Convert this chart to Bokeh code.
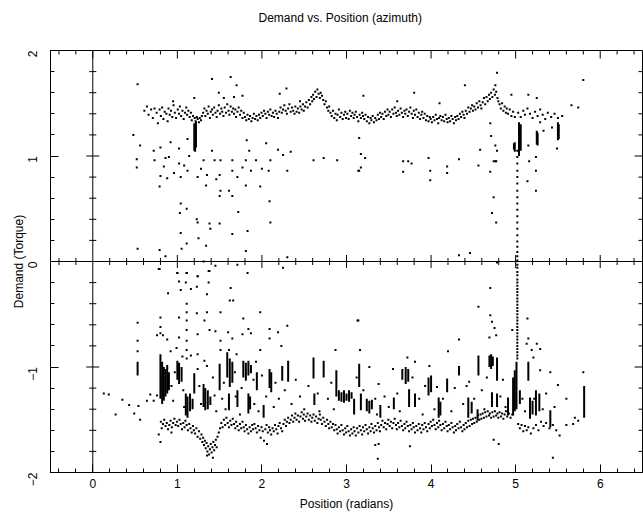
import math
import numpy as np
from bokeh.plotting import figure
from bokeh.models import (Range1d, LinearAxis, SingleIntervalTicker, Span,
                          ColumnDataSource, Title)
from bokeh.embed import file_html
from bokeh.resources import INLINE

# ---------------- data ----------------
upper_band = [
    (0.61,1.43),(0.64,1.47),(0.66,1.39),(0.69,1.44),(0.71,1.36),(0.73,1.45),(0.755,1.41),(0.77,1.31),(0.79,1.44),
    (0.805,1.38),(0.82,1.46),(0.835,1.35),(0.85,1.42),(0.87,1.40),(0.885,1.33),(0.895,1.45),
    (0.91,1.39),(0.925,1.43),(0.94,1.37),(0.955,1.48),(0.97,1.41),(0.985,1.36),
    (1.005,1.44),(1.02,1.40),(1.03,1.47),(1.045,1.38),(1.06,1.43),(1.075,1.35),(1.09,1.41),
    (1.105,1.46),(1.115,1.39),(1.13,1.43),(1.145,1.37),(1.16,1.41),(1.17,1.34),(1.185,1.38),
    (1.205,1.36),(1.215,1.33),(1.23,1.37),(1.24,1.35),(1.255,1.32),(1.265,1.36),(1.28,1.34),(1.29,1.38),
    (1.305,1.41),(1.32,1.45),(1.33,1.38),(1.345,1.43),(1.36,1.40),(1.37,1.47),(1.385,1.36),(1.395,1.42),
    (1.41,1.44),(1.42,1.39),(1.435,1.46),(1.45,1.41),(1.465,1.37),(1.475,1.43),(1.49,1.48),
    (1.505,1.40),(1.52,1.45),(1.53,1.42),(1.545,1.38),(1.56,1.46),(1.575,1.41),(1.59,1.49),
    (1.605,1.43),(1.615,1.39),(1.63,1.47),(1.645,1.42),(1.66,1.45),(1.67,1.40),(1.685,1.44),(1.695,1.37),
    (1.71,1.42),(1.725,1.46),(1.74,1.39),(1.755,1.43),(1.77,1.36),(1.785,1.41),
    (1.80,1.37),(1.815,1.34),(1.83,1.39),(1.845,1.35),(1.86,1.38),(1.875,1.33),(1.89,1.36),
    (1.905,1.40),(1.92,1.35),(1.935,1.38),(1.95,1.34),(1.965,1.39),(1.98,1.36),(1.995,1.41),
    (2.01,1.38),(2.025,1.43),(2.04,1.40),(2.055,1.36),(2.07,1.42),(2.085,1.39),
    (2.10,1.44),(2.115,1.38),(2.13,1.41),(2.145,1.37),(2.16,1.43),(2.175,1.40),(2.19,1.36),
    (2.205,1.42),(2.22,1.46),(2.235,1.41),(2.25,1.44),(2.265,1.48),(2.28,1.43),(2.295,1.40),
    (2.31,1.45),(2.325,1.49),(2.34,1.42),(2.355,1.46),(2.37,1.43),(2.385,1.40),(2.395,1.47),
    (2.41,1.42),(2.425,1.45),(2.44,1.41),(2.455,1.47),(2.47,1.44),(2.485,1.49),(2.495,1.43),
    (2.51,1.47),(2.525,1.51),(2.54,1.46),(2.555,1.53),(2.57,1.49),(2.585,1.56),(2.595,1.52),
    (2.605,1.58),(2.615,1.54),(2.63,1.61),(2.645,1.56),(2.655,1.63),(2.67,1.59),(2.685,1.55),(2.695,1.60),
    (2.71,1.57),(2.725,1.53),(2.74,1.49),(2.755,1.52),(2.77,1.46),(2.785,1.43),(2.795,1.47),
    (2.81,1.41),(2.825,1.38),(2.84,1.43),(2.855,1.36),(2.87,1.40),(2.885,1.34),(2.895,1.39),
    (2.91,1.44),(2.925,1.37),(2.94,1.41),(2.955,1.35),(2.97,1.39),(2.985,1.42),(2.995,1.36),
    (3.01,1.40),(3.025,1.35),(3.04,1.43),(3.055,1.38),(3.07,1.41),(3.085,1.36),(3.095,1.39),
    (3.11,1.42),(3.125,1.37),(3.14,1.33),(3.155,1.39),(3.17,1.36),(3.185,1.41),(3.195,1.38),
    (3.21,1.35),(3.225,1.39),(3.24,1.33),(3.255,1.37),(3.27,1.31),(3.285,1.36),(3.295,1.34),
    (3.31,1.38),(3.325,1.32),(3.34,1.36),(3.355,1.34),(3.37,1.39),(3.385,1.35),(3.395,1.41),
    (3.41,1.37),(3.425,1.40),(3.44,1.35),(3.455,1.42),(3.47,1.38),(3.485,1.44),(3.495,1.39),
    (3.51,1.42),(3.525,1.37),(3.54,1.44),(3.555,1.40),(3.57,1.46),(3.585,1.41),(3.595,1.38),
    (3.61,1.43),(3.625,1.39),(3.64,1.45),(3.655,1.41),(3.67,1.37),(3.685,1.43),(3.695,1.40),
    (3.71,1.44),(3.725,1.38),(3.74,1.42),(3.755,1.46),(3.77,1.40),(3.785,1.36),(3.795,1.43),
    (3.81,1.39),(3.825,1.44),(3.84,1.37),(3.855,1.41),(3.87,1.35),(3.885,1.39),(3.895,1.42),
    (3.91,1.36),(3.925,1.40),(3.94,1.34),(3.955,1.38),(3.97,1.33),(3.985,1.37),(3.995,1.35),
    (4.01,1.32),(4.025,1.37),(4.04,1.34),(4.055,1.39),(4.07,1.35),(4.085,1.31),(4.095,1.36),
    (4.11,1.38),(4.125,1.34),(4.14,1.37),(4.155,1.33),(4.17,1.39),(4.185,1.35),(4.195,1.32),
    (4.21,1.36),(4.225,1.33),(4.24,1.38),(4.255,1.35),(4.27,1.31),(4.285,1.37),(4.295,1.34),
    (4.31,1.38),(4.325,1.35),(4.34,1.40),(4.355,1.37),(4.37,1.42),(4.385,1.39),(4.395,1.36),
    (4.41,1.43),(4.425,1.40),(4.44,1.46),(4.455,1.42),(4.47,1.45),(4.485,1.48),(4.495,1.43),
    (4.51,1.47),(4.525,1.44),(4.54,1.50),(4.555,1.46),(4.57,1.52),(4.585,1.48),(4.595,1.45),
    (4.61,1.51),(4.625,1.55),(4.64,1.49),(4.655,1.56),(4.67,1.52),(4.685,1.58),(4.695,1.54),
    (4.71,1.60),(4.725,1.56),(4.74,1.63),(4.755,1.58),(4.77,1.61),(4.785,1.55),(4.795,1.52),
    (4.81,1.49),(4.825,1.45),(4.84,1.50),(4.855,1.43),(4.87,1.47),(4.885,1.41),(4.895,1.45),
    (4.91,1.40),(4.93,1.44),(4.95,1.38),(4.97,1.42),(4.99,1.37),
    (5.03,1.41),(5.06,1.37),(5.09,1.43),(5.11,1.39),(5.14,1.45),(5.17,1.40),(5.20,1.36),(5.23,1.42),
    (5.26,1.38),(5.29,1.44),(5.32,1.39),(5.35,1.35),(5.38,1.41),(5.42,1.37),(5.46,1.40),(5.50,1.36),
    (5.55,1.38),
]

upper_scatter = [
    (0.53,1.68),(1.41,1.73),(1.63,1.75),(1.70,1.67),(1.77,1.57),(1.49,1.60),(1.67,1.56),(2.21,1.59),
    (2.29,1.64),(3.20,1.57),(3.80,1.60),(4.40,1.67),(4.76,1.67),(4.78,1.79),(4.95,1.58),(5.15,1.58),
    (5.25,1.55),(5.66,1.48),(5.74,1.46),(5.80,1.72),(1.55,1.55),(2.45,1.52),(3.60,1.52),(4.10,1.50),
    (1.20,1.55),(0.95,1.52),
    (0.48,1.20),(0.56,1.10),(0.52,0.97),(0.52,0.89),(0.72,1.05),(0.73,0.96),(0.80,1.08),(0.80,0.81),
    (0.79,0.71),(0.88,0.79),(0.90,0.99),(0.84,0.90),(0.92,1.13),(1.02,1.07),(1.02,0.93),(1.04,0.80),
    (1.12,1.16),(1.14,1.00),(1.12,0.86),(1.24,0.80),(1.31,0.96),(1.35,0.82),(1.34,0.72),(1.41,1.05),
    (1.44,0.96),(1.51,0.96),(1.50,0.82),(1.65,0.96),(1.65,0.86),(1.71,0.80),(1.77,0.89),(1.81,0.96),
    (1.82,1.15),(1.85,1.05),(1.87,0.86),(1.81,0.72),(1.93,0.96),(1.98,0.71),(2.00,0.88),(2.08,0.86),
    (2.10,0.96),(2.05,1.12),(2.19,1.06),(2.25,1.01),(2.34,1.04),(2.30,0.86),(2.61,0.96),(2.73,0.98),
    (2.89,0.96),(3.15,1.17),(3.14,0.86),(0.96,0.84),(1.08,0.91),(1.28,0.88),(1.46,0.78),(0.86,0.98),
    (3.17,1.02),(3.22,0.98),(3.15,0.86),(3.17,0.89),(3.67,0.95),(3.73,0.95),(3.77,0.93),(3.67,0.85),
    (3.97,0.98),(3.99,0.86),(3.99,0.77),(4.19,0.90),(4.19,0.84),(4.33,0.97),(4.56,0.91),(4.58,1.06),
    (4.70,0.85),(4.71,1.19),(4.70,1.31),(4.76,1.10),(4.78,1.05),(4.76,0.95),(4.74,0.61),(4.72,0.46),
    (4.77,0.37),(4.33,0.06),(4.46,0.08),(4.78,-0.01),(5.15,1.10),(5.16,0.95),(5.14,0.76),(5.24,0.86),
    (5.24,0.67),(5.24,0.99),(5.33,1.24),(5.43,1.27),(5.49,1.07),(5.29,1.32),(4.74,0.95),(4.77,0.95),
    (1.51,0.67),(1.61,0.67),(1.65,0.62),(1.50,0.62),(1.04,0.55),(1.11,0.50),(1.03,0.46),(1.23,0.40),
    (1.24,0.37),(1.38,0.36),(1.39,0.31),(1.50,0.36),(1.65,0.26),(1.72,0.47),(1.83,0.29),(2.09,0.57),
    (2.10,0.37),(1.04,0.27),(1.25,0.22),(1.11,0.17),(1.34,0.15),(1.05,0.12),(0.79,0.11),(0.53,0.12),
    (0.86,0.05),(1.81,0.10),(2.30,0.04),(1.31,0.00),(1.71,-0.03),(0.79,-0.07),(1.00,-0.11),(1.11,-0.11),
    (1.24,-0.14),(1.37,-0.09),(1.83,-0.11),(2.25,-0.06),
]

lower_band = [
    (0.805,-1.52),(0.815,-1.58),(0.83,-1.54),(0.845,-1.50),(0.86,-1.56),(0.875,-1.53),(0.89,-1.59),
    (0.905,-1.55),(0.92,-1.51),(0.935,-1.57),(0.95,-1.53),(0.965,-1.49),(0.98,-1.55),(0.995,-1.52),
    (1.01,-1.56),(1.025,-1.50),(1.04,-1.54),(1.055,-1.59),(1.07,-1.53),(1.085,-1.57),(1.095,-1.51),
    (1.11,-1.55),(1.125,-1.60),(1.14,-1.54),(1.155,-1.58),(1.17,-1.62),(1.185,-1.56),(1.195,-1.60),
    (1.21,-1.63),(1.225,-1.58),(1.24,-1.66),(1.255,-1.61),(1.27,-1.68),(1.285,-1.64),(1.295,-1.71),
    (1.305,-1.67),(1.315,-1.74),(1.325,-1.70),(1.335,-1.77),(1.345,-1.72),(1.355,-1.80),(1.365,-1.75),
    (1.375,-1.83),(1.385,-1.78),(1.395,-1.73),(1.405,-1.81),(1.415,-1.76),(1.425,-1.71),(1.435,-1.79),
    (1.445,-1.74),(1.455,-1.69),(1.465,-1.76),(1.475,-1.66),(1.49,-1.62),
    (1.505,-1.58),(1.52,-1.53),(1.535,-1.57),(1.55,-1.50),(1.565,-1.55),(1.58,-1.48),(1.595,-1.53),
    (1.61,-1.57),(1.625,-1.51),(1.64,-1.55),(1.655,-1.49),(1.67,-1.54),(1.685,-1.58),(1.695,-1.52),
    (1.71,-1.56),(1.725,-1.60),(1.74,-1.54),(1.755,-1.58),(1.77,-1.52),(1.785,-1.57),(1.795,-1.61),
    (1.81,-1.55),(1.825,-1.59),(1.84,-1.63),(1.855,-1.57),(1.87,-1.61),(1.885,-1.55),(1.895,-1.59),
    (1.91,-1.54),(1.925,-1.58),(1.94,-1.62),(1.955,-1.56),(1.97,-1.60),(1.985,-1.67),(1.995,-1.57),
    (2.01,-1.61),(2.025,-1.70),(2.04,-1.59),(2.055,-1.55),(2.07,-1.62),(2.085,-1.57),(2.095,-1.60),
    (2.11,-1.64),(2.125,-1.58),(2.14,-1.61),(2.155,-1.55),(2.17,-1.59),(2.185,-1.63),(2.195,-1.56),
    (2.21,-1.53),(2.225,-1.58),(2.24,-1.61),(2.255,-1.54),(2.27,-1.50),(2.285,-1.56),(2.295,-1.52),
    (2.31,-1.48),(2.325,-1.53),(2.34,-1.50),(2.355,-1.46),(2.37,-1.52),(2.385,-1.48),(2.395,-1.44),
    (2.41,-1.50),(2.425,-1.46),(2.44,-1.52),(2.455,-1.47),(2.47,-1.43),(2.485,-1.49),(2.495,-1.45),
    (2.51,-1.51),(2.525,-1.47),(2.54,-1.44),(2.555,-1.50),(2.57,-1.46),(2.585,-1.52),(2.595,-1.48),
    (2.61,-1.45),(2.625,-1.51),(2.64,-1.47),(2.655,-1.53),(2.67,-1.49),(2.685,-1.45),(2.695,-1.50),
    (2.71,-1.54),(2.725,-1.48),(2.74,-1.52),(2.755,-1.56),(2.77,-1.50),(2.785,-1.54),(2.795,-1.58),
    (2.81,-1.52),(2.825,-1.57),(2.84,-1.54),(2.855,-1.60),(2.87,-1.55),(2.885,-1.59),(2.895,-1.63),
    (2.91,-1.57),(2.925,-1.61),(2.94,-1.55),(2.955,-1.60),(2.97,-1.64),(2.985,-1.58),(2.995,-1.62),
    (3.01,-1.56),(3.025,-1.61),(3.04,-1.65),(3.055,-1.59),(3.07,-1.63),(3.085,-1.57),(3.095,-1.61),
    (3.11,-1.65),(3.125,-1.58),(3.14,-1.62),(3.155,-1.56),(3.17,-1.60),(3.185,-1.64),(3.195,-1.57),
    (3.21,-1.61),(3.225,-1.55),(3.24,-1.59),(3.255,-1.63),(3.27,-1.57),(3.285,-1.61),(3.295,-1.54),
    (3.31,-1.58),(3.325,-1.62),(3.34,-1.56),(3.355,-1.60),(3.37,-1.53),(3.385,-1.57),(3.395,-1.61),
    (3.41,-1.55),(3.425,-1.51),(3.44,-1.57),(3.455,-1.53),(3.47,-1.59),(3.485,-1.54),(3.495,-1.50),
    (3.51,-1.56),(3.525,-1.52),(3.54,-1.58),(3.555,-1.53),(3.57,-1.49),(3.585,-1.55),(3.595,-1.59),
    (3.61,-1.53),(3.625,-1.57),(3.64,-1.51),(3.655,-1.56),(3.67,-1.60),(3.685,-1.54),(3.695,-1.58),
    (3.71,-1.52),(3.725,-1.56),(3.74,-1.61),(3.755,-1.55),(3.77,-1.59),(3.785,-1.53),(3.795,-1.57),
    (3.81,-1.62),(3.825,-1.56),(3.84,-1.60),(3.855,-1.54),(3.87,-1.58),(3.885,-1.62),(3.895,-1.55),
    (3.91,-1.59),(3.925,-1.53),(3.94,-1.57),(3.955,-1.61),(3.97,-1.54),(3.985,-1.58),(3.995,-1.52),
    (4.01,-1.56),(4.025,-1.50),(4.04,-1.55),(4.055,-1.59),(4.07,-1.53),(4.085,-1.57),(4.095,-1.51),
    (4.11,-1.55),(4.125,-1.60),(4.14,-1.54),(4.155,-1.58),(4.17,-1.52),(4.185,-1.56),(4.195,-1.61),
    (4.21,-1.55),(4.225,-1.59),(4.24,-1.53),(4.255,-1.57),(4.27,-1.62),(4.285,-1.56),(4.295,-1.60),
    (4.31,-1.54),(4.325,-1.58),(4.34,-1.52),(4.355,-1.57),(4.37,-1.61),(4.385,-1.55),(4.395,-1.59),
    (4.41,-1.53),(4.425,-1.57),(4.44,-1.51),(4.455,-1.56),(4.47,-1.50),(4.485,-1.54),(4.495,-1.49),
    (4.51,-1.53),(4.525,-1.48),(4.54,-1.52),(4.555,-1.46),(4.57,-1.50),(4.585,-1.45),(4.595,-1.49),
    (4.61,-1.44),(4.625,-1.48),(4.64,-1.43),(4.655,-1.47),(4.67,-1.42),(4.685,-1.46),(4.695,-1.44),
    (4.71,-1.48),(4.725,-1.43),(4.74,-1.47),(4.755,-1.42),(4.77,-1.46),(4.785,-1.44),(4.795,-1.48),
    (4.81,-1.43),(4.825,-1.47),(4.84,-1.44),(4.855,-1.49),(4.87,-1.45),(4.885,-1.42),(4.90,-1.47),
    (4.92,-1.44),(4.94,-1.48),(4.96,-1.45),
    (5.03,-1.54),(5.05,-1.58),(5.07,-1.55),(5.09,-1.61),(5.11,-1.56),(5.13,-1.60),(5.15,-1.57),
    (5.18,-1.63),(5.21,-1.58),(5.24,-1.55),(5.27,-1.60),(5.30,-1.52),(5.33,-1.56),(5.36,-1.53),
    (5.40,-1.58),(5.44,-1.55),(5.48,-1.60),(5.52,-1.65),(5.60,-1.55),(5.68,-1.54),(5.74,-1.51),
]

lower_scatter = [
    (0.13,-1.25),(0.19,-1.26),(0.27,-1.45),(0.35,-1.31),(0.43,-1.36),(0.49,-1.44),(0.56,-1.50),(0.54,-1.37),
    (0.64,-1.32),(0.68,-1.26),(0.72,-1.32),(0.76,-1.27),(0.80,-1.71),(0.78,-1.64),
    (0.78,-0.07),(1.00,-0.11),(1.11,-0.11),(1.24,-0.14),(1.38,-0.09),(1.45,-0.04),(1.37,-0.20),(1.02,-0.19),
    (1.10,-0.20),(1.04,-0.27),(1.16,-0.26),(1.23,-0.24),(1.35,-0.31),(0.89,-0.30),(1.63,-0.25),(1.62,-0.37),
    (1.66,-0.37),(1.98,-0.48),(1.11,-0.40),(1.11,-0.48),(1.11,-0.56),(1.11,-0.65),(1.11,-0.75),(1.11,-0.84),
    (1.11,-0.92),(1.23,-0.49),(1.35,-0.48),(1.32,-0.56),(1.38,-0.65),(1.45,-0.66),(1.51,-0.48),(1.02,-0.53),
    (1.02,-0.72),(0.80,-0.53),(0.80,-0.62),(0.80,-0.68),(0.88,-0.74),(0.83,-0.70),(0.99,-0.82),(0.76,-0.70),
    (0.53,-0.58),(0.53,-0.75),(0.53,-0.85),(1.60,-0.67),(1.65,-0.73),(1.77,-0.69),(1.84,-0.64),(1.87,-0.68),
    (1.78,-0.54),(2.09,-0.64),(2.09,-0.73),(2.19,-0.67),(2.30,-0.61),(2.23,-0.80),(1.24,-0.69),(1.24,-0.88),
    (1.16,-0.89),(1.51,-0.75),(1.51,-0.84),(1.98,-0.84),(2.87,-0.84),(3.14,-0.56),(1.61,-0.84),(1.35,-0.99),
    (1.32,-0.94),(0.92,-0.85),(1.06,-0.90),(1.70,-0.88),(1.93,-0.95),
    (4.70,-0.25),(4.56,-0.43),(4.70,-0.51),(4.72,-0.57),(4.75,-0.63),(4.69,-0.72),(4.77,-0.70),(4.33,-0.74),
    (4.20,-0.85),(3.13,-0.56),(3.16,-0.84),(3.27,-1.00),(3.72,-0.91),(3.81,-0.95),(3.98,-0.99),(3.55,-1.02),
    (5.14,-0.54),(5.15,-0.73),(5.19,-0.84),(5.25,-0.78),(5.29,-0.83),(5.21,-0.91),(5.13,-0.78),(5.29,-1.03),
    (5.41,-1.05),(5.50,-1.17),(5.80,-1.05),(4.96,-0.65),(4.45,-1.14),(3.38,-1.16),(4.07,-1.19),
    (3.37,-1.87),(3.75,-1.75),(5.44,-1.86),(4.74,-1.69),(4.80,-1.73),(3.38,-1.73),(3.34,-1.74),
    (1.42,-1.86),(1.35,-1.84),(2.06,-1.73),(0.93,-1.62),
    (0.93,-1.18),(0.95,-1.32),(0.97,-1.05),(1.07,-1.22),(1.08,-1.38),(1.24,-1.02),(1.26,-1.18),(1.28,-1.35),
    (1.42,-1.10),(1.44,-1.27),(1.46,-1.42),(1.53,-1.30),(1.55,-1.15),(1.57,-1.40),(1.68,-1.05),(1.69,-1.28),
    (1.74,-1.45),(1.76,-1.20),(1.90,-1.12),(1.91,-1.35),(1.96,-1.42),(2.00,-1.08),(2.05,-1.28),(2.14,-1.38),
    (2.16,-1.15),(2.20,-1.30),(2.27,-1.22),(2.35,-1.35),(2.40,-1.12),(2.45,-1.28),(2.50,-1.40),(2.55,-1.18),
    (2.66,-1.25),(2.68,-1.42),(2.78,-1.30),(2.82,-1.15),(2.85,-1.40),(3.12,-1.10),(3.20,-1.22),(3.34,-1.30),
    (3.36,-1.45),(3.45,-1.28),(3.50,-1.38),(3.60,-1.25),(3.63,-1.42),(3.78,-1.10),(3.86,-1.30),(3.90,-1.45),
    (3.93,-1.18),(4.04,-1.40),(4.14,-1.30),(4.24,-1.42),(4.28,-1.20),(4.38,-1.35),(4.42,-1.18),(4.51,-1.30),
    (4.60,-1.22),(4.63,-1.40),(4.66,-1.10),(4.82,-1.28),(4.85,-1.12),(4.88,-1.38),(5.08,-1.30),(5.11,-1.42),
    (5.22,-1.30),(5.32,-1.40),(5.36,-1.25),(5.46,-1.38),(5.60,-1.30),(5.70,-1.48),
]

column_x = 5.02
column_y = [1.05, 0.99, 0.93, 0.86, 0.80, 0.74, 0.67, 0.61, 0.55, 0.49, 0.43, 0.37, 0.31, 0.25,
            0.19, 0.14, 0.09, 0.05, 0.01, -0.03, -0.06, -0.10, -0.13, -0.17, -0.20, -0.23, -0.26,
            -0.29, -0.32, -0.35, -0.38, -0.41, -0.44, -0.47, -0.50, -0.53, -0.56, -0.59, -0.62,
            -0.65, -0.68, -0.71, -0.74, -0.77, -0.80, -0.83, -0.86, -0.89, -0.92]

streaks = [
    (1.20,1.31,1.05),(1.22,1.33,1.08),(1.21,1.28,1.04),
    (5.04,1.32,1.00),(5.06,1.30,1.05),(4.99,1.13,1.04),(4.98,1.12,1.06),
    (5.25,1.24,1.11),(5.26,1.22,1.10),(5.50,1.32,1.15),(5.51,1.30,1.16),
    (0.53,-0.95,-1.08),
    (0.80,-0.88,-1.30),(0.82,-0.95,-1.35),(0.84,-1.00,-1.32),(0.86,-1.02,-1.28),(0.88,-0.98,-1.25),(0.90,-1.05,-1.22),
    (1.00,-0.94,-1.12),(1.02,-0.96,-1.16),(1.05,-1.00,-1.14),
    (1.10,-1.25,-1.46),(1.12,-1.28,-1.48),(1.15,-1.25,-1.42),(1.18,-1.30,-1.40),
    (1.20,-1.06,-1.25),
    (1.31,-1.16,-1.38),(1.33,-1.20,-1.41),(1.36,-1.22,-1.40),(1.39,-1.28,-1.36),
    (1.50,-0.97,-1.22),
    (1.59,-0.86,-1.10),(1.62,-0.92,-1.19),(1.65,-0.95,-1.15),
    (1.61,-1.25,-1.41),(1.71,-1.22,-1.38),
    (1.78,-0.94,-1.10),(1.81,-0.96,-1.13),(1.84,-0.94,-1.08),(1.87,-0.98,-1.06),
    (1.84,-1.25,-1.44),(1.86,-1.28,-1.40),
    (1.94,-1.05,-1.22),(2.02,-1.36,-1.48),
    (2.09,-1.02,-1.20),(2.11,-1.05,-1.24),
    (2.24,-0.99,-1.13),(2.31,-0.94,-1.14),(2.61,-0.91,-1.11),(2.62,-1.25,-1.36),(2.73,-0.94,-1.10),
    (2.88,-1.03,-1.28),
    (2.91,-1.22,-1.32),(2.94,-1.24,-1.33),(2.97,-1.22,-1.34),(3.00,-1.25,-1.32),(3.03,-1.22,-1.33),(3.06,-1.24,-1.30),
    (3.09,-1.30,-1.45),(3.15,-0.97,-1.19),(3.17,-1.25,-1.41),
    (3.24,-1.30,-1.42),(3.27,-1.32,-1.44),(3.30,-1.31,-1.40),
    (3.40,-1.36,-1.48),(3.56,-1.29,-1.40),
    (3.66,-1.02,-1.12),(3.70,-1.00,-1.16),(3.73,-1.02,-1.14),
    (3.74,-1.21,-1.38),(3.81,-1.25,-1.38),
    (3.97,-1.10,-1.27),(4.00,-1.08,-1.24),
    (4.09,-1.29,-1.48),(4.11,-1.33,-1.46),
    (4.19,-1.11,-1.24),(4.33,-0.99,-1.08),(4.44,-1.29,-1.48),(4.48,-1.33,-1.44),(4.55,-1.40,-1.51),
    (4.56,-0.89,-1.08),
    (4.69,-0.89,-1.00),(4.71,-0.88,-1.02),(4.73,-0.90,-0.99),
    (4.72,-1.24,-1.38),(4.78,-0.91,-1.13),(4.78,-1.25,-1.38),(4.91,-1.29,-1.46),
    (4.97,-1.10,-1.46),(4.99,-1.03,-1.42),(5.01,-0.95,-1.40),
    (5.05,-1.22,-1.35),(5.15,-0.95,-1.13),
    (5.17,-1.29,-1.49),(5.20,-1.32,-1.45),
    (5.24,-1.22,-1.46),(5.28,-1.25,-1.42),
    (5.41,-1.41,-1.57),(5.81,-1.18,-1.48),
]

X_RANGE = (-0.5, 6.5)
Y_RANGE = (-2.0, 2.0)
FONT = "Liberation Sans"
FRAME_W = 592
FRAME_H = 422

p = figure(width=643, height=517, x_range=Range1d(*X_RANGE), y_range=Range1d(*Y_RANGE),
           output_backend="svg", toolbar_location=None, title=None,
           x_axis_location=None, y_axis_location=None,
           min_border_left=50, min_border_right=1, min_border_top=50, min_border_bottom=45)
p.grid.visible = False
p.outline_line_color = "black"
p.outline_line_width = 1
p.background_fill_color = "white"
p.border_fill_color = "white"

# spacer between the frame and the title, then the title itself
p.add_layout(Title(text=" ", text_font_size="1px", standoff=22), "above")
p.add_layout(Title(text="Demand vs. Position (azimuth)", align="left", offset=208,
                   text_font=FONT, text_font_size="12px", text_font_style="normal",
                   text_color="black", standoff=2), "above")


def make_axis(label):
    return LinearAxis(ticker=SingleIntervalTicker(interval=1, num_minor_ticks=5),
                      major_tick_in=8, major_tick_out=0, minor_tick_in=4, minor_tick_out=0,
                      axis_line_color="black", major_tick_line_color="black",
                      minor_tick_line_color="black",
                      major_label_text_font=FONT, major_label_text_font_size="12px",
                      major_label_text_color="black",
                      axis_label=label, axis_label_text_font=FONT,
                      axis_label_text_font_size="12px", axis_label_text_font_style="normal",
                      axis_label_text_color="black")


left = make_axis("Demand (Torque)")
left.major_label_orientation = math.pi / 2
left.major_label_standoff = 18
left.axis_label_standoff = -5
bottom = make_axis("Position (radians)")
bottom.major_label_standoff = 6
bottom.axis_label_standoff = 6
p.add_layout(left, "left")
p.add_layout(bottom, "below")

p.add_layout(Span(location=0, dimension="height", line_color="black", line_width=1))
p.add_layout(Span(location=0, dimension="width", line_color="black", line_width=1))

px_x = (X_RANGE[1] - X_RANGE[0]) / FRAME_W
px_y = (Y_RANGE[1] - Y_RANGE[0]) / FRAME_H

xt = np.round(np.arange(-0.4, 6.41, 0.2), 2)
xmaj = np.isclose(xt, np.round(xt))
yt = np.round(np.arange(-1.8, 1.81, 0.2), 2)
ymaj = np.isclose(yt, np.round(yt))

xin = xt[np.abs(xt) > 1e-9]
xh = np.where(np.isclose(xin, np.round(xin)), 6.5, 3.5) * px_y
p.segment(x0=xin, x1=xin, y0=-xh, y1=xh, line_color="black", line_width=1)
yin = yt[np.abs(yt) > 1e-9]
yh = np.where(np.isclose(yin, np.round(yin)), 6.5, 3.5) * px_x
p.segment(x0=-yh, x1=yh, y0=yin, y1=yin, line_color="black", line_width=1)

tl_top = np.where(xmaj, 8, 4) * px_y
p.segment(x0=xt, x1=xt, y0=Y_RANGE[1], y1=Y_RANGE[1] - tl_top, line_color="black", line_width=1)
tl_right = np.where(ymaj, 8, 4) * px_x
p.segment(x0=X_RANGE[1], x1=X_RANGE[1] - tl_right, y0=yt, y1=yt, line_color="black", line_width=1)

st = ColumnDataSource(dict(x=[s[0] for s in streaks], y0=[s[1] for s in streaks],
                           y1=[s[2] for s in streaks]))
p.segment(x0="x", x1="x", y0="y0", y1="y1", source=st, line_color="black", line_width=2)

all_pts = upper_band + upper_scatter + lower_band + lower_scatter
px = [q[0] for q in all_pts] + [column_x] * len(column_y)
py = [q[1] for q in all_pts] + column_y
p.scatter(px, py, marker="square", size=2, fill_color="black", line_color=None)

open("out.html", "w").write(file_html(p, INLINE))
